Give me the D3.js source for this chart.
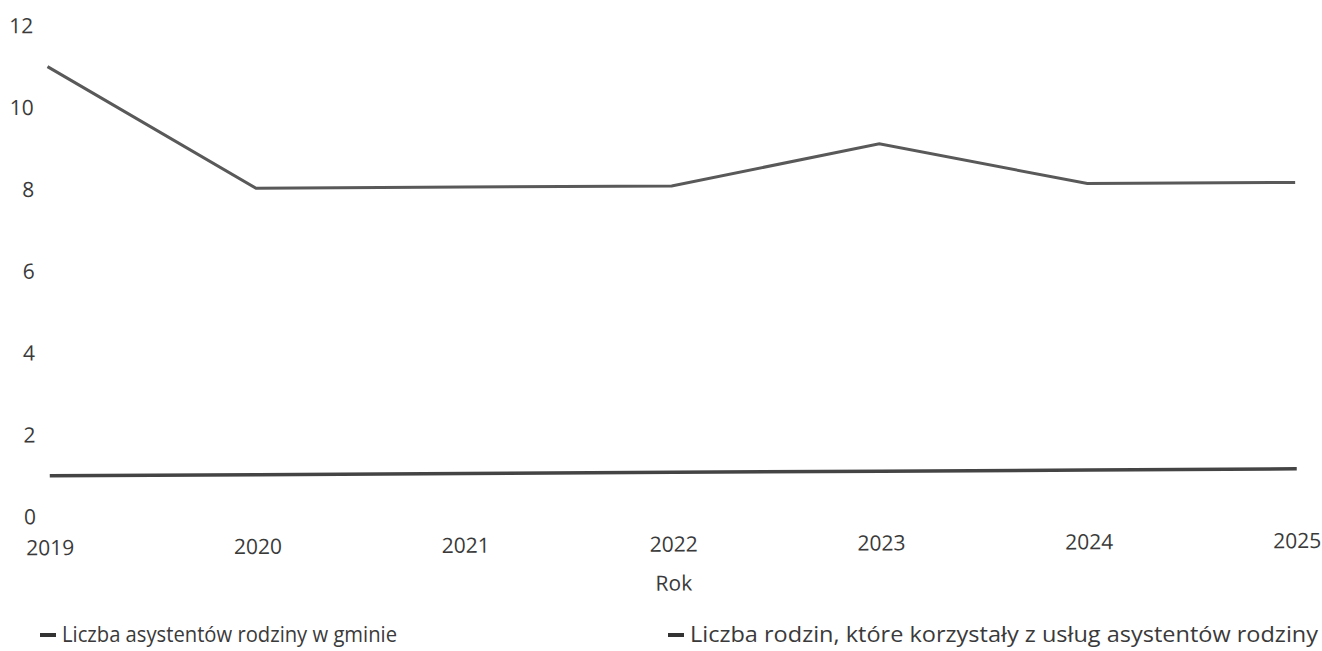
<!DOCTYPE html>
<html>
<head>
<meta charset="utf-8">
<script src="https://cdn.jsdelivr.net/npm/d3@7"></script>
<style>
  body { margin: 0; background: #fff; }
  svg { display: block; font-family: "Open Sans", "Noto Sans", sans-serif; }
</style>
</head>
<body>
<div id="chart"></div>
<script>
// dane
const years = [2019, 2020, 2021, 2022, 2023, 2024, 2025];
const asystenci = [1, 1, 1, 1, 1, 1, 1];
const rodziny = [11, 8, 8, 8, 9, 8, 8];
const yTicks = [0, 2, 4, 6, 8, 10, 12];
const seriesNames = ["Liczba asystentów rodziny w gminie", "Liczba rodzin, które korzystały z usług asystentów rodziny"];

const width = 1322, height = 651;
const textCol = "#3a3a3a";

const svg = d3.select("#chart").append("svg")
    .attr("width", width)
    .attr("height", height);

const x = d3.scalePoint()
    .domain(years)
    .range([50, 1297]);

const y = d3.scaleLinear()
    .domain([0, 12])
    .range([517, 26]);

// lekki skos jak w skanie
const g = svg.append("g")
    .attr("transform", "rotate(-0.32, 0, 517)");

// os Y - tylko etykiety
g.append("g")
    .selectAll("text")
    .data(yTicks)
    .join("text")
    .attr("x", 36)
    .attr("y", d => y(d))
    .attr("dy", "0.35em")
    .attr("text-anchor", "end")
    .style("font-size", "21px")
    .style("fill", textCol)
    .text(d => d);

// os X - etykiety
g.append("g")
    .selectAll("text")
    .data(years)
    .join("text")
    .attr("x", d => x(d))
    .attr("y", 548)
    .attr("dy", "0.35em")
    .attr("text-anchor", "middle")
    .style("font-size", "21px")
    .style("fill", textCol)
    .text(d => d);

g.append("text")
    .attr("x", (x.range()[0] + x.range()[1]) / 2)
    .attr("y", 587)
    .attr("dy", "0.35em")
    .attr("text-anchor", "middle")
    .style("font-size", "21px")
    .style("fill", textCol)
    .text("Rok");

const line = d3.line()
    .x((d, i) => x(years[i]))
    .y(d => y(d));

g.append("path")
    .datum(rodziny)
    .attr("d", line)
    .attr("fill", "none")
    .attr("stroke", "#595959")
    .attr("stroke-width", 3);

g.append("path")
    .datum(asystenci)
    .attr("d", line)
    .attr("fill", "none")
    .attr("stroke", "#444")
    .attr("stroke-width", 3.5);

// legenda
const legendX = [40, 668];
const legendLen = [335, 628];
const legend = svg.append("g")
    .selectAll("g")
    .data(seriesNames)
    .join("g")
    .attr("transform", (d, i) => `translate(${legendX[i]},635)`);

legend.append("rect")
    .attr("x", 0)
    .attr("y", -2)
    .attr("width", 16)
    .attr("height", 4)
    .attr("fill", "#333");

legend.append("text")
    .attr("x", 22)
    .attr("y", 0)
    .attr("dy", "0.35em")
    .attr("textLength", (d, i) => legendLen[i])
    .attr("lengthAdjust", "spacingAndGlyphs")
    .style("font-size", "21px")
    .style("fill", textCol)
    .text(d => d);
</script>
</body>
</html>
